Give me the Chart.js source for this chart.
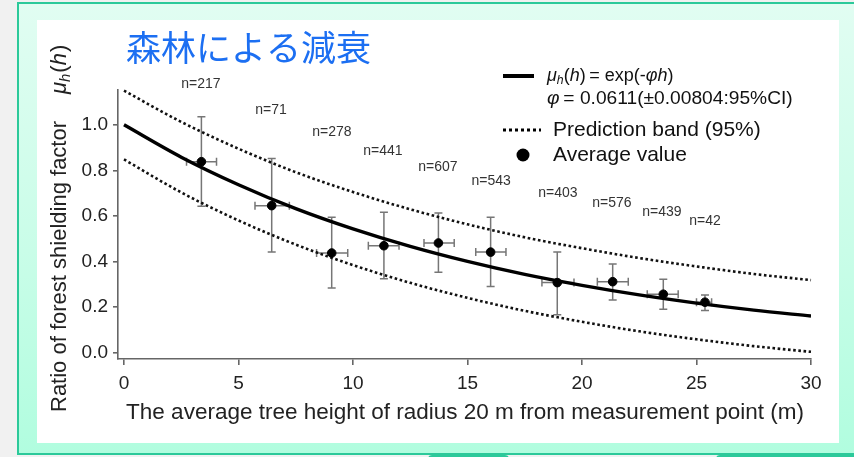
<!DOCTYPE html>
<html>
<head>
<meta charset="utf-8">
<script src="https://cdn.jsdelivr.net/npm/chart.js@4.4.1/dist/chart.umd.min.js"></script>
<style>
  html, body { margin: 0; padding: 0; }
  body { width: 854px; height: 457px; position: relative; overflow: hidden; background: #f1f1f1; }
  .frame {
    position: absolute; left: 17px; top: 2px; width: 900px; height: 449px;
    border: 2px solid #2cc99a;
    background: linear-gradient(to bottom, #e1fdf2 0%, #c9fde8 55%, #b1fddf 100%);
  }
  .tab {
    position: absolute; top: 455px; height: 12px;
    border: 2px solid #2cc99a; border-radius: 4px; background: #b1fddf;
  }
  .panel { position: absolute; left: 37px; top: 20px; width: 802px; height: 423px; background: #ffffff; }
  canvas { position: absolute; left: 0; top: 0; }
</style>
</head>
<body>
<div class="frame"></div>
<div class="tab" style="left:428px;width:77px;"></div>
<div class="tab" style="left:716px;width:200px;"></div>
<div class="panel"></div>
<canvas id="c" width="854" height="457"></canvas>
<script>
// Average tree height (m) and mean forest shielding factor per class
const meanH      = [3.38, 6.45, 9.07, 11.35, 13.73, 16.01, 18.92, 21.34, 23.55, 25.37];
const meanMu     = [0.838, 0.645, 0.437, 0.469, 0.481, 0.441, 0.307, 0.311, 0.256, 0.221];
const muLow      = [0.642, 0.441, 0.283, 0.324, 0.352, 0.290, 0.166, 0.231, 0.190, 0.184];
const muHigh     = [1.036, 0.852, 0.594, 0.616, 0.613, 0.594, 0.442, 0.389, 0.322, 0.253];
const hLow       = [2.73, 5.72, 8.41, 10.67, 13.10, 15.36, 18.25, 20.67, 22.85, 25.00];
const hHigh      = [4.04, 7.22, 9.77, 12.01, 14.42, 16.68, 19.65, 22.02, 24.20, 25.66];

// Sample counts per class and where their labels sit (data units)
const countLabels = ['n=217', 'n=71', 'n=278', 'n=441', 'n=607', 'n=543', 'n=403', 'n=576', 'n=439', 'n=42'];
const countAtH    = [3.36, 6.42, 9.08, 11.31, 13.71, 16.03, 18.95, 21.31, 23.49, 25.37];
const countAtMu   = [1.178, 1.064, 0.967, 0.883, 0.813, 0.751, 0.698, 0.654, 0.615, 0.579];

// Fitted curve mu_h(h) = exp(-phi h) and its 95% prediction band
const curveH     = [0, 2.5, 5, 7.5, 10, 12.5, 15, 17.5, 20, 22.5, 25, 27.5, 30];
const curveMu    = [1.000, 0.858, 0.737, 0.632, 0.543, 0.466, 0.400, 0.343, 0.295, 0.253, 0.217, 0.186, 0.160];
const bandUpper  = [1.150, 1.013, 0.895, 0.792, 0.705, 0.629, 0.563, 0.506, 0.458, 0.415, 0.378, 0.345, 0.318];
const bandLower  = [0.848, 0.703, 0.580, 0.474, 0.384, 0.306, 0.240, 0.183, 0.135, 0.093, 0.058, 0.028, 0.003];

// Axis ticks
const xTickValues = [0, 5, 10, 15, 20, 25, 30];
const yTickValues = [0, 0.2, 0.4, 0.6, 0.8, 1.0];

const FONT = '"Liberation Sans", Arial, Helvetica, sans-serif';
const AXIS_GRAY = '#666666';

const pairs = (xs, ys) => xs.map((x, i) => ({ x: x, y: ys[i] }));

// Error bars in both directions, drawn under the markers
const errorBars = {
  id: 'errorBars',
  beforeDatasetsDraw(chart) {
    const { ctx, scales: { x, y } } = chart;
    const cap = 4;
    ctx.save();
    ctx.strokeStyle = '#767676';
    ctx.lineWidth = 1.5;
    ctx.beginPath();
    meanH.forEach((h, i) => {
      const px = x.getPixelForValue(h), py = y.getPixelForValue(meanMu[i]);
      const yt = y.getPixelForValue(muHigh[i]), yb = y.getPixelForValue(muLow[i]);
      const xl = x.getPixelForValue(hLow[i]), xr = x.getPixelForValue(hHigh[i]);
      ctx.moveTo(px, yt); ctx.lineTo(px, yb);
      ctx.moveTo(px - cap, yt); ctx.lineTo(px + cap, yt);
      ctx.moveTo(px - cap, yb); ctx.lineTo(px + cap, yb);
      ctx.moveTo(xl, py); ctx.lineTo(xr, py);
      ctx.moveTo(xl, py - cap); ctx.lineTo(xl, py + cap);
      ctx.moveTo(xr, py - cap); ctx.lineTo(xr, py + cap);
    });
    ctx.stroke();
    ctx.restore();
  }
};

// Draws a row of text pieces with their own styles, left to right
function drawRuns(ctx, x, y, runs, size) {
  let cx = x;
  runs.forEach(r => {
    const s = r.sub ? size * 0.68 : size;
    ctx.font = (r.italic ? 'italic ' : '') + s + 'px ' + FONT;
    ctx.fillText(r.t, cx, y + (r.sub ? size * 0.28 : 0));
    cx += ctx.measureText(r.t).width + (r.gap || 0);
  });
  return cx;
}

// Title, axis titles, count labels and legend
const annotations = {
  id: 'annotations',
  afterDraw(chart) {
    const { ctx, scales: { x, y } } = chart;
    ctx.save();

    // heading
    ctx.fillStyle = '#1c6ff2';
    ctx.font = '35px "Noto Sans CJK JP", sans-serif';
    ctx.textAlign = 'left';
    ctx.textBaseline = 'middle';
    ctx.fillText('森林による減衰', 126, 48);

    // x axis title
    ctx.fillStyle = '#222222';
    ctx.font = '22.5px ' + FONT;
    ctx.textAlign = 'center';
    ctx.textBaseline = 'middle';
    ctx.fillText('The average tree height of radius 20 m from measurement point (m)', 465, 413);

    // y axis title, rotated
    ctx.save();
    ctx.translate(60, 412);
    ctx.rotate(-Math.PI / 2);
    ctx.textAlign = 'left';
    ctx.textBaseline = 'middle';
    ctx.font = '22px ' + FONT;
    ctx.fillText('Ratio of forest shielding factor', 0, 0);
    drawRuns(ctx, 318, 0, [
      { t: 'μ', italic: true },
      { t: 'h', italic: true, sub: true, gap: 1 },
      { t: '(' },
      { t: 'h', italic: true, gap: 1 },
      { t: ')' }
    ], 22);
    ctx.restore();

    // sample counts
    ctx.fillStyle = '#333333';
    ctx.font = '14px ' + FONT;
    ctx.textAlign = 'center';
    ctx.textBaseline = 'middle';
    countLabels.forEach((t, i) => {
      ctx.fillText(t, x.getPixelForValue(countAtH[i]), y.getPixelForValue(countAtMu[i]));
    });

    // legend
    ctx.strokeStyle = '#000000';
    ctx.lineWidth = 4;
    ctx.beginPath(); ctx.moveTo(503, 76); ctx.lineTo(534, 76); ctx.stroke();

    ctx.fillStyle = '#111111';
    ctx.textAlign = 'left';
    ctx.textBaseline = 'middle';
    drawRuns(ctx, 547, 76, [
      { t: 'μ', italic: true },
      { t: 'h', italic: true, sub: true },
      { t: '(' },
      { t: 'h', italic: true },
      { t: ')\u2009= exp(-' },
      { t: 'φh', italic: true },
      { t: ')' }
    ], 18);
    drawRuns(ctx, 547, 99, [
      { t: 'φ', italic: true },
      { t: '\u2009= 0.0611(±0.00804:95%CI)' }
    ], 19.2);

    ctx.lineWidth = 3;
    ctx.setLineDash([3, 3]);
    ctx.beginPath(); ctx.moveTo(503, 130); ctx.lineTo(541, 130); ctx.stroke();
    ctx.setLineDash([]);
    ctx.font = '21px ' + FONT;
    ctx.fillText('Prediction band (95%)', 553, 130);

    ctx.fillStyle = '#000000';
    ctx.beginPath(); ctx.arc(523, 155, 6.5, 0, Math.PI * 2); ctx.fill();
    ctx.fillStyle = '#111111';
    ctx.fillText('Average value', 553, 155);

    ctx.restore();
  }
};

new Chart(document.getElementById('c'), {
  type: 'scatter',
  data: {
    datasets: [
      {
        label: 'Average value',
        data: pairs(meanH, meanMu),
        backgroundColor: '#000000',
        borderColor: '#000000',
        pointRadius: 4.3,
        pointHoverRadius: 4.3
      },
      {
        label: 'mu_h(h) = exp(-phi h)',
        type: 'line',
        data: pairs(curveH, curveMu),
        borderColor: '#000000',
        borderWidth: 3.4,
        pointRadius: 0,
        cubicInterpolationMode: 'monotone',
        fill: false
      },
      {
        label: 'Prediction band upper',
        type: 'line',
        data: pairs(curveH, bandUpper),
        borderColor: '#111111',
        borderWidth: 2.6,
        borderDash: [2.6, 2.6],
        pointRadius: 0,
        cubicInterpolationMode: 'monotone',
        fill: false,
        clip: false
      },
      {
        label: 'Prediction band lower',
        type: 'line',
        data: pairs(curveH, bandLower),
        borderColor: '#111111',
        borderWidth: 2.6,
        borderDash: [2.6, 2.6],
        pointRadius: 0,
        cubicInterpolationMode: 'monotone',
        fill: false,
        clip: false
      }
    ]
  },
  options: {
    responsive: false,
    animation: false,
    devicePixelRatio: 1,
    events: [],
    layout: { padding: { left: 0, right: 43, top: 90, bottom: 0 } },
    plugins: {
      legend: { display: false },
      tooltip: { enabled: false },
      title: { display: false }
    },
    scales: {
      x: {
        type: 'linear',
        min: -0.262,
        max: 30,
        afterBuildTicks: s => { s.ticks = xTickValues.map(v => ({ value: v })); },
        afterFit: s => { s.height = 98; },
        border: { display: true, color: AXIS_GRAY, width: 1.6 },
        grid: { display: true, drawOnChartArea: false, drawTicks: true, tickLength: 6, color: AXIS_GRAY, lineWidth: 1.6 },
        ticks: { color: '#222222', font: { size: 19, family: FONT }, padding: 7, maxRotation: 0, autoSkip: false }
      },
      y: {
        type: 'linear',
        min: -0.0285,
        max: 1.153,
        afterBuildTicks: s => { s.ticks = yTickValues.map(v => ({ value: v })); },
        afterFit: s => { s.width = 118; },
        border: { display: true, color: AXIS_GRAY, width: 1.6 },
        grid: { display: true, drawOnChartArea: false, drawTicks: true, tickLength: 5, color: AXIS_GRAY, lineWidth: 1.6 },
        ticks: { color: '#222222', font: { size: 19, family: FONT }, padding: 5, autoSkip: false,
                 callback: v => Number(v).toFixed(1) }
      }
    }
  },
  plugins: [errorBars, annotations]
});
</script>
</body>
</html>
